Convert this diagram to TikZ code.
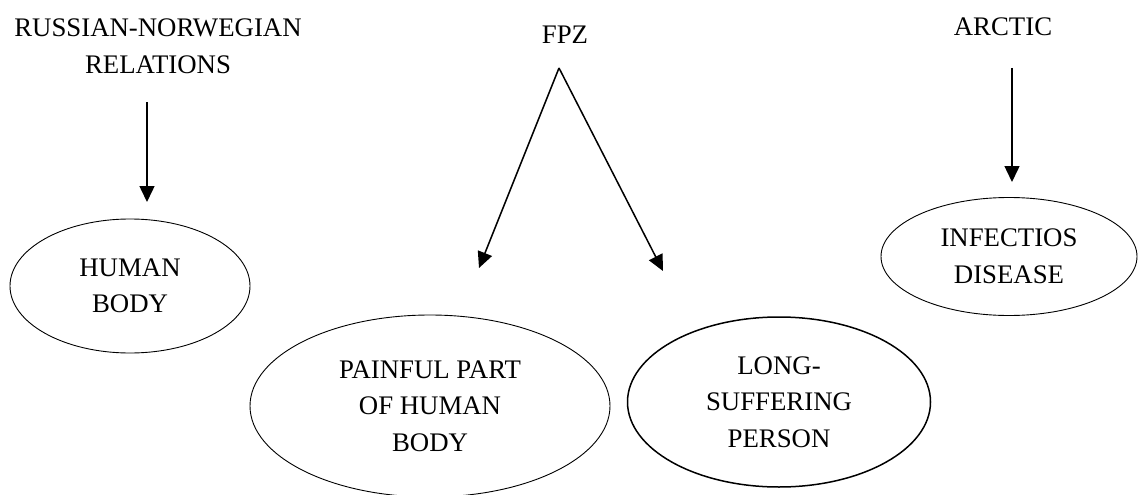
\documentclass[tikz,border=0pt]{standalone}
\usepackage{fontspec}
\setmainfont{Liberation Serif}
\usetikzlibrary{shapes.geometric,arrows.meta}
\begin{document}
\begin{tikzpicture}[x=1pt,y=-1pt,
  label/.style={inner sep=0pt,align=center,font=\fontsize{26.8pt}{36.5pt}\selectfont},
  oval/.style={label,draw,ellipse,line width=0.9pt},
  link/.style={line width=1.5pt,-{Triangle[length=16pt,width=15pt]}}]
\path[use as bounding box,fill=white] (0,0) rectangle (1138,495);

% headings
\node[label] (rn) at (158,46.5) {RUSSIAN-NORWEGIAN\\RELATIONS};
\node[label] (fpz) at (565,34.5) {FPZ};
\node[label] (arc) at (1003,26.5) {ARCTIC};

% ovals
\node[oval,minimum width=240pt,minimum height=134pt] (hb) at (130,286) {HUMAN\\BODY};
\node[oval,minimum width=360pt,minimum height=182pt] (pp) at (430,406) {PAINFUL PART\\OF HUMAN\\BODY};
\node[oval,line width=1.5pt,minimum width=303pt,minimum height=170pt] (ls) at (779,402) {LONG-\\SUFFERING\\PERSON};
\node[oval,minimum width=256pt,minimum height=118pt] (inf) at (1009,256.5) {INFECTIOS\\DISEASE};

% arrow ends
\coordinate (rnTail) at (147,102);
\coordinate (rnHead) at (147,202);
\coordinate (fpzTop) at (559,68);
\coordinate (fpzLeft) at (479,268);
\coordinate (fpzRight) at (663,271);
\coordinate (arcTail) at (1012,68);
\coordinate (arcHead) at (1012,182);

% arrows
\draw[link] (rnTail) -- (rnHead);
\draw[link] (fpzTop) -- (fpzLeft);
\draw[link] (fpzTop) -- (fpzRight);
\draw[link] (arcTail) -- (arcHead);
\end{tikzpicture}
\end{document}
